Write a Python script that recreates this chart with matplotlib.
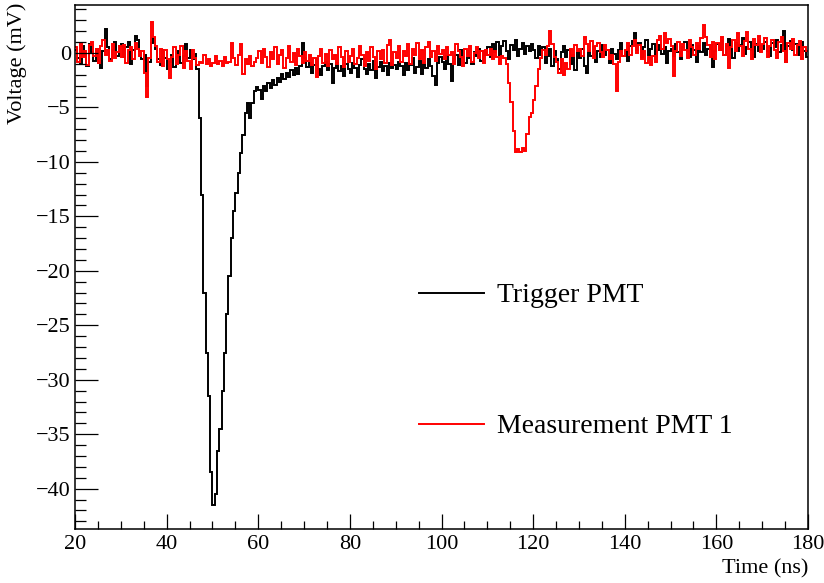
import numpy as np
import matplotlib
matplotlib.use('Agg')
import matplotlib.pyplot as plt

# waveform binning (ns)
t_start = 20.0
bin_width = 0.5

# Trigger PMT voltage (mV), one row per 10 ns
trigger_mv = [
    0.3, -0.5, -1.0, 0.6, -0.2, -1.2, 0.8, 0.1, -0.7, 0.4, -0.9, -1.4, 0.2, 2.2, 0.5, -0.6, 0.3, 1.0, -0.3, 0.6,
    0.8, -0.4, 0.5, 1.0, -1.0, 0.3, 1.6, 1.2, 0.2, -0.6, -0.2, -3.0, -0.8, 0.9, 1.4, 0.4, -0.6, -1.1, 0.3, -0.5,
    -1.5, -0.8, -0.2, -1.3, -0.4, 0.2, -0.9, -0.3, 0.8, -0.5, 0.3, -0.6, -0.1, -1.5, -6.0, -13.0, -22.0, -27.5, -31.5, -38.5,
    -41.5, -40.5, -36.5, -34.5, -31.0, -27.5, -24.0, -20.5, -17.0, -14.5, -12.9, -11.0, -9.2, -7.5, -5.5, -4.6, -6.0, -4.6, -3.5, -3.1,
    -3.4, -4.2, -3.0, -3.5, -2.8, -3.2, -2.5, -2.9, -2.3, -2.7, -1.9, -2.4, -1.8, -2.2, -1.6, -2.0, -1.4, -1.9, -1.2, 0.9,
    -0.5, -1.3, -0.9, -1.8, -1.1, -0.6, -1.5, -2.0, -1.2, -0.8, -1.6, -1.0, -2.8, -1.4, -0.9, -1.7, -1.2, -2.1, -1.0, -1.5,
    -1.8, -0.9, -1.4, -2.2, -1.1, -0.6, -1.5, -1.9, -1.0, -1.6, -0.7, -2.3, -1.3, -0.8, -1.7, -1.2, -2.0, -0.9, -1.4, -1.1,
    -1.5, -0.8, -1.2, -2.0, -0.9, -1.6, -1.1, -0.5, -1.8, -1.3, -0.7, -1.9, -1.0, -1.4, -0.6, -1.2, -2.1, -2.9, -0.9, -0.4,
    -0.8, -1.5, -0.3, -1.0, -2.6, -0.6, -0.2, -1.1, 0.3, -0.4, -0.9, 0.2, -0.5, -1.0, 0.1, -0.3, 0.4, -0.7, 0.2, -0.2,
    0.5, -0.4, 0.8, 0.1, 1.0, -0.2, 0.6, 1.1, 0.2, -0.6, 0.7, 0.3, 1.2, -0.3, 0.4, 0.9, -0.1, 0.6, 0.2, 0.8,
    0.3, -0.5, 0.6, -0.2, 0.5, -0.9, -0.3, 0.4, -1.2, 0.2, -0.6, -1.5, 0.1, 0.6, -0.4, 0.3, -1.0, -0.2, -1.6, 0.2,
    -0.5, 0.4, -1.2, -1.8, 0.1, -0.3, 0.5, -0.8, 0.2, -0.4, 0.7, -0.2, 0.3, -0.9, 0.4, -0.1, -0.6, 0.3, 0.9, -0.3,
    0.2, -0.7, 0.6, 1.1, 1.8, 0.3, 0.9, -0.4, 0.5, 1.2, -0.2, 0.4, 0.8, -0.6, 0.3, 0.7, -0.1, 0.5, -0.9, 0.2,
    0.4, -0.3, 0.8, 0.1, -0.6, 0.5, 1.0, 0.2, -0.4, 0.7, 0.3, -0.8, 0.6, 0.1, 0.9, -0.2, 0.4, 0.7, -1.3, 0.2,
    0.8, 0.3, 1.1, -0.2, 0.6, 1.3, 0.4, -0.5, 0.9, 0.2, 0.7, 1.4, -0.1, 0.5, 1.0, 0.3, -0.4, 0.8, 0.2, 0.6,
    0.4, 1.0, 0.2, -0.3, 0.9, 0.5, 1.2, 0.1, 0.7, 2.0, -0.8, 0.6, 1.1, 0.3, 0.8, -0.2, 0.5, 1.0, 0.2, -0.4,
]

# Measurement PMT 1 voltage (mV)
measurement_mv = [
    0.5, -0.8, 0.9, -0.4, 0.2, -1.1, 0.7, 1.0, -0.3, 0.4, -0.9, 0.6, 1.2, -0.2, 0.3, -0.7, 0.8, -0.5, 0.1, 0.6,
    -0.4, 0.7, -0.9, 0.3, 0.5, -0.6, 0.9, 0.4, -0.3, 0.2, -1.8, -4.0, -0.5, 2.8, 1.5, 0.6, -0.8, 0.4, -1.2, 0.3,
    -0.6, -2.3, -0.4, 0.5, -1.0, -0.2, 0.6, -1.4, 0.2, -0.7, -1.5, 0.3, -0.5, -1.1, -0.8, -0.9, -0.2, -1.0, -0.6, -1.2,
    -0.9, -0.3, -1.0, -0.7, -1.2, -0.4, -0.9, -0.8, 0.9, -0.5, -1.1, -0.2, 0.8, -1.9, -0.6, -1.0, -0.3, -1.2, -0.8, -0.5,
    0.2, -0.9, 0.4, -0.4, -1.3, 0.1, -0.6, 0.5, -1.0, -0.2, 0.3, -1.4, -0.5, 0.6, -0.8, 0.0, -1.1, 0.4, -0.3, -0.9,
    0.1, -0.7, -0.2, -1.1, -0.5, -2.2, -0.3, 0.4, -0.9, -0.1, -1.2, 0.3, -0.6, -0.2, -1.0, 0.5, -0.4, -1.3, 0.2, -0.8,
    -0.3, 0.4, -1.0, -0.5, 0.6, -0.2, -1.2, 0.1, -0.7, 0.5, -0.4, -1.5, 0.2, -0.6, 0.3, -0.9, 0.7, 1.2, -1.1, 0.1,
    -0.5, 0.6, -0.8, 0.2, -0.3, 0.8, -1.0, 0.4, -0.2, 0.9, -0.6, 0.3, -0.9, 0.5, 1.0, -0.4, 0.2, -0.7, 0.6, -0.1,
    0.3, -0.6, 0.5, -0.2, 0.1, -1.0, 0.8, 0.2, -0.4, -1.2, 0.4, -0.3, 0.6, -0.8, 0.0, 0.5, -0.5, 0.2, -0.9, 0.3,
    -0.2, 0.4, -0.6, 0.2, -0.4, -1.0, -0.3, -0.5, -1.0, -2.8, -4.5, -7.2, -9.1, -8.8, -9.1, -8.7, -9.0, -7.4, -5.9, -5.5,
    -4.3, -3.0, -1.5, -0.5, 0.3, -0.2, 0.6, 2.0, 0.8, -0.4, -0.8, -1.8, -0.6, -2.0, -0.9, -1.5, 0.4, -0.3, 0.7, 0.2,
    0.4, -0.3, 1.5, 0.8, 0.2, 1.1, -0.5, 0.6, 0.9, 0.1, -0.4, 0.7, 0.3, -0.6, -0.2, -1.0, -3.5, -0.8, 0.2, -0.3,
    0.3, 0.9, -0.2, 0.6, 1.2, 0.0, 0.7, -0.6, 0.2, -0.9, -0.4, -1.1, -0.3, -0.8, 1.2, 1.6, 0.4, 1.8, 0.9, 1.3,
    0.6, -2.1, 0.2, 1.0, -0.3, 0.8, 0.3, -0.5, 1.2, 0.5, -0.2, 0.9, 0.4, 1.4, 2.6, 1.5, 0.7, -0.4, 1.0, -0.6,
    0.9, 0.3, 1.5, -0.2, 0.8, -1.4, 0.5, 1.2, 0.2, 1.8, 0.6, -0.3, 1.1, 1.9, 0.4, -0.6, 1.3, 0.7, 1.6, 0.1,
    0.8, 1.4, -0.4, 0.6, 1.2, 0.3, -0.5, 1.0, 1.5, 0.2, -0.8, 0.9, 0.4, 1.3, -0.2, 0.7, 1.1, -0.6, 0.5, 0.2,
]

labels = ['Trigger PMT', 'Measurement PMT 1']

plt.rcParams['font.family'] = ['Liberation Serif', 'DejaVu Serif']

fig = plt.figure(figsize=(8.24, 5.83), dpi=100)
ax = fig.add_axes([75 / 824, 1 - 529 / 583, 733 / 824, 524 / 583])

edges = t_start + bin_width * np.arange(len(trigger_mv) + 1)
ax.stairs(trigger_mv, edges, color='black', lw=1.4, label=labels[0], baseline=None)
ax.stairs(measurement_mv, edges, color='#ff0000', lw=1.4, label=labels[1], baseline=None)

ax.set_xlim(20, 180)
ax.set_ylim(-43.7, 4.4)
ax.set_xticks(np.arange(20, 181, 20))
ax.set_xticks(np.arange(20, 181, 5), minor=True)
ax.set_yticks(np.arange(-40, 1, 5))
ax.set_yticks(np.arange(-43, 5, 1), minor=True)

ax.tick_params(axis='both', which='both', direction='in', labelsize=16, width=0.9)
ax.tick_params(axis='y', which='major', length=16.5, pad=3)
ax.tick_params(axis='y', which='minor', length=8)
ax.tick_params(axis='x', which='major', length=10.8, pad=4)
ax.tick_params(axis='x', which='minor', length=5.5)
for sp in ax.spines.values():
    sp.set_linewidth(1.1)

fig.text(17 / 824, 1 - 3 / 583, 'Voltage (mV)', rotation=90, ha='center', va='top', fontsize=16)
fig.text(808 / 824, 1 - 573 / 583, 'Time (ns)', ha='right', va='baseline', fontsize=16)

ax.legend(loc='upper left', bbox_to_anchor=(419 / 824, 1 - 283 / 583), bbox_transform=fig.transFigure,
          frameon=False, fontsize=20, handlelength=2.35, handletextpad=0.45, labelspacing=3.8,
          borderpad=0, borderaxespad=0)

fig.savefig('out.png', dpi=100)
